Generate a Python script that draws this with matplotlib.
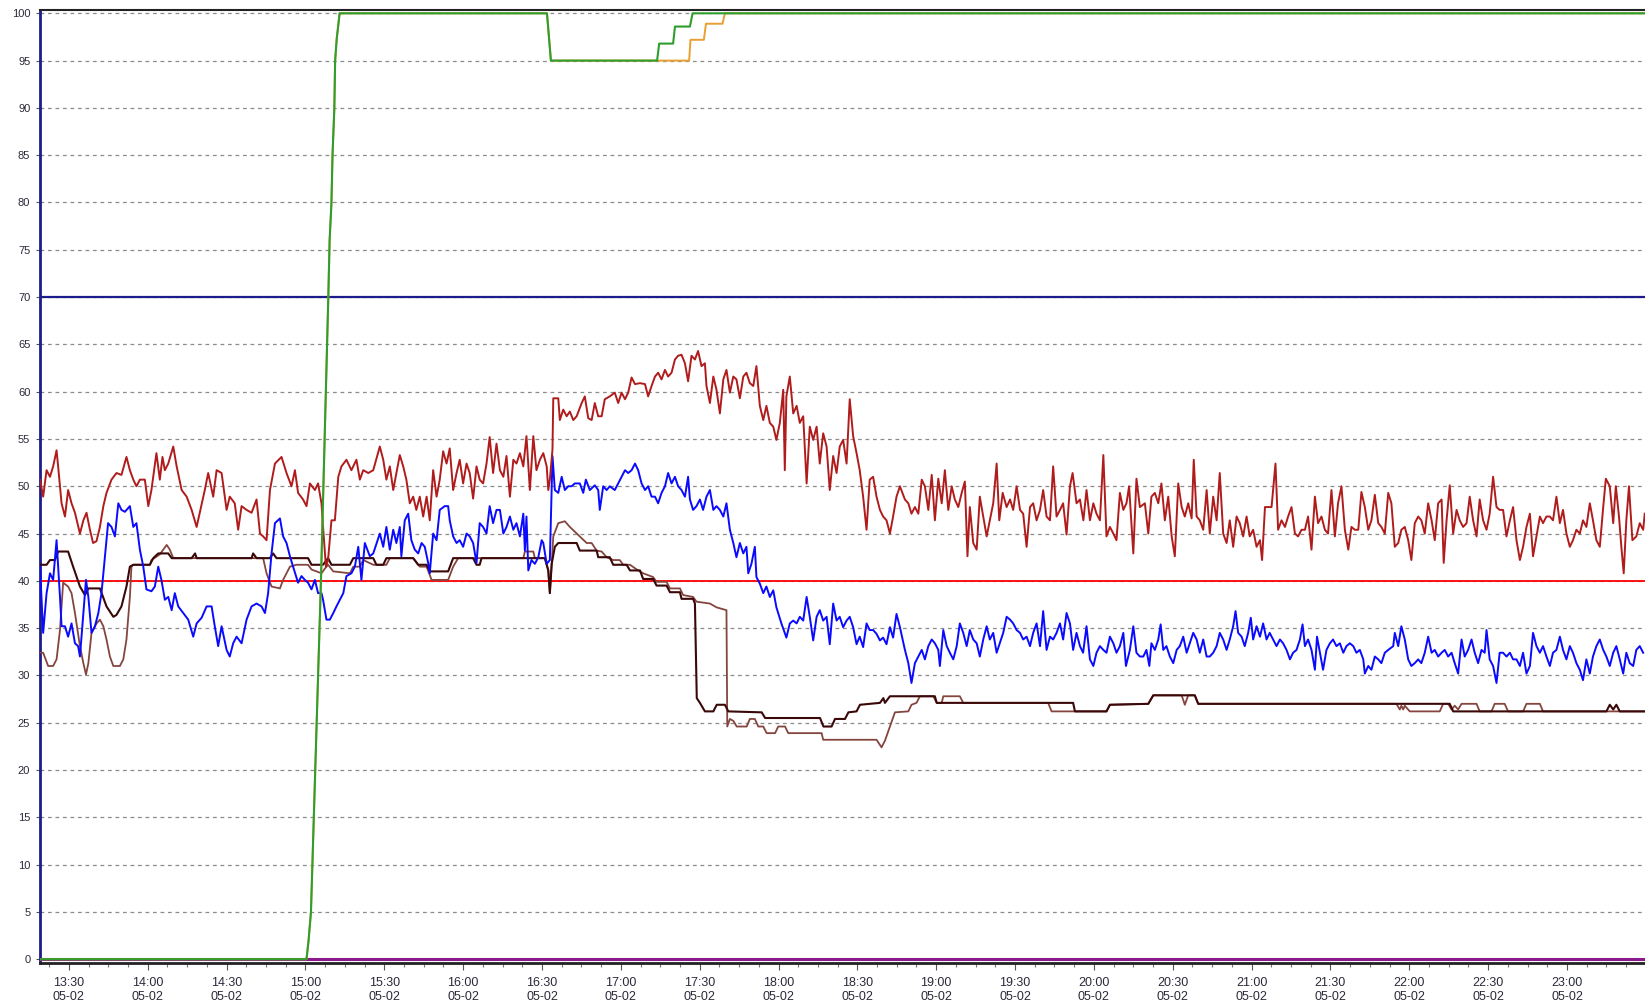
import matplotlib
matplotlib.use("Agg")
import matplotlib.pyplot as plt
from matplotlib.ticker import MultipleLocator, FuncFormatter

plt.rcParams['font.family'] = ['Liberation Sans', 'DejaVu Sans']

# time = minutes after 13:30 on 05-02, value = percent
red_pts = [
    (-11.0, 50.7), (-9.8, 48.9), (-8.5, 51.7), (-7.2, 51.0), (-6.0, 52.1), (-4.7, 53.8), (-4.1, 52.1),
    (-2.8, 48.2), (-1.5, 46.8), (-0.3, 49.6), (1.0, 48.2), (2.3, 47.2), (4.2, 45.0), (5.5, 46.4),
    (6.7, 47.2), (8.0, 45.4), (9.2, 44.0), (10.5, 44.2), (11.8, 45.7), (13.1, 47.9), (14.3, 49.3),
    (16.2, 50.7), (18.1, 51.4), (20.0, 51.2), (21.9, 53.1), (23.2, 51.7), (24.5, 50.7), (25.7, 50.0),
    (27.0, 50.7), (28.9, 50.7), (30.2, 47.9), (31.4, 49.6), (33.3, 53.5), (34.6, 50.7), (35.6, 53.1),
    (36.5, 51.7), (37.8, 52.4), (39.7, 54.2), (41.0, 52.1), (42.9, 49.6), (44.8, 48.9), (46.7, 47.5),
    (48.6, 45.7), (49.8, 47.2), (51.7, 49.6), (53.0, 51.4), (54.9, 48.9), (56.2, 51.7), (58.1, 51.4),
    (60.0, 47.5), (61.2, 48.9), (63.1, 48.2), (64.4, 45.4), (65.7, 47.9), (67.6, 47.5), (69.5, 47.2),
    (71.4, 48.6), (72.7, 45.0), (73.9, 44.7), (75.2, 44.3), (76.5, 49.6), (78.4, 52.4), (80.9, 53.1),
    (82.8, 51.4), (84.7, 50.0), (86.0, 51.7), (87.2, 49.3), (89.1, 48.6), (90.4, 47.9), (91.7, 50.3),
    (93.6, 49.6), (94.8, 50.3), (96.1, 48.2), (96.7, 45.7), (97.8, 41.5), (98.6, 42.2), (99.9, 46.4),
    (101.2, 46.4), (102.5, 51.0), (103.7, 52.1), (105.6, 52.8), (107.5, 51.7), (109.4, 52.8),
    (110.7, 50.7), (112.0, 51.7), (113.9, 51.4), (115.8, 51.7), (118.3, 54.2), (119.6, 52.8),
    (120.8, 50.7), (122.1, 52.1), (123.4, 49.6), (124.6, 51.4), (125.9, 53.3), (127.2, 52.1),
    (128.4, 50.7), (129.7, 48.2), (131.0, 48.9), (132.2, 47.5), (133.5, 48.9), (134.8, 46.8),
    (136.1, 48.9), (137.3, 46.4), (138.6, 51.7), (139.9, 48.9), (141.1, 50.7), (142.4, 53.7),
    (143.7, 52.4), (144.9, 54.0), (146.2, 49.6), (147.5, 51.4), (148.7, 52.8), (150.0, 50.3),
    (151.3, 52.4), (152.5, 51.4), (153.8, 48.7), (155.1, 52.1), (156.3, 50.7), (157.6, 50.3),
    (158.9, 52.4), (160.1, 55.2), (161.4, 51.4), (162.7, 54.5), (164.0, 51.7), (165.3, 51.0),
    (166.5, 53.2), (167.8, 48.9), (169.1, 52.8), (170.3, 52.4), (171.6, 53.5), (172.9, 52.1),
    (174.1, 55.3), (175.4, 49.6), (176.7, 55.3), (177.9, 51.7), (179.2, 52.8), (180.5, 53.5),
    (181.8, 52.1), (182.4, 49.6), (183.0, 50.7), (184.0, 53.9), (184.3, 59.3), (186.2, 59.3),
    (186.8, 57.0), (188.1, 58.1), (189.4, 57.4), (190.6, 57.9), (191.9, 57.0), (193.2, 57.4),
    (195.1, 58.8), (196.3, 59.5), (197.6, 57.2), (198.9, 57.0), (200.1, 58.8), (201.4, 57.4),
    (202.7, 57.4), (203.9, 59.2), (205.8, 59.5), (207.7, 59.9), (209.0, 58.8), (210.3, 59.9),
    (211.6, 59.2), (212.8, 59.9), (214.1, 61.5), (215.4, 60.8), (217.3, 60.9), (219.2, 60.8),
    (220.4, 59.5), (221.7, 60.6), (223.0, 61.6), (224.2, 62.0), (225.5, 61.3), (226.8, 62.3),
    (228.0, 61.6), (229.3, 62.0), (230.6, 63.4), (231.8, 63.8), (233.1, 63.9), (234.4, 63.0),
    (235.6, 61.1), (236.9, 63.8), (238.2, 63.4), (239.4, 64.3), (240.7, 62.7), (242.0, 63.0),
    (242.6, 60.6), (243.9, 58.8), (245.2, 61.6), (246.4, 60.2), (247.7, 57.7), (249.0, 61.3),
    (250.2, 62.3), (251.5, 59.9), (252.8, 61.6), (254.0, 61.3), (255.3, 59.3), (256.6, 61.6),
    (257.8, 62.0), (259.1, 60.9), (260.4, 60.6), (261.6, 62.7), (262.9, 58.5), (264.2, 57.0),
    (265.4, 58.5), (266.7, 56.7), (268.0, 56.3), (269.2, 54.9), (270.5, 56.7), (271.8, 60.2),
    (272.4, 51.7), (273.0, 59.5), (274.3, 61.6), (275.6, 57.7), (276.9, 58.5), (278.1, 56.7),
    (279.4, 57.4), (280.7, 50.3), (281.9, 56.3), (283.2, 54.9), (284.5, 56.3), (285.7, 52.4),
    (287.0, 55.6), (288.3, 54.2), (289.5, 49.6), (290.8, 53.2), (292.1, 51.4), (293.3, 54.2),
    (294.6, 54.9), (295.9, 52.4), (297.1, 59.2), (298.4, 55.3), (299.7, 53.5), (300.9, 51.7),
    (302.2, 48.9), (303.5, 45.4), (304.7, 50.7), (306.0, 51.0), (307.3, 48.9), (308.6, 47.5),
    (309.8, 46.8), (311.1, 46.4), (312.4, 45.0), (313.6, 46.8), (314.9, 48.9), (316.2, 50.0),
    (318.1, 48.6), (319.4, 48.2), (320.6, 47.1), (321.9, 47.8), (323.2, 47.1), (324.5, 50.7),
    (325.7, 50.0), (327.0, 47.5), (328.3, 51.2), (329.5, 46.4), (330.8, 50.8), (332.1, 48.2),
    (333.3, 51.7), (334.6, 47.5), (335.9, 50.0), (337.1, 48.6), (338.4, 47.8), (339.7, 49.3),
    (340.9, 50.5), (341.9, 42.6), (342.8, 47.8), (344.1, 44.0), (345.4, 43.3), (346.6, 48.9),
    (347.9, 46.8), (349.2, 44.7), (350.4, 46.4), (351.7, 48.2), (353.0, 52.4), (354.0, 46.4),
    (355.3, 49.3), (356.8, 47.8), (358.1, 48.6), (359.3, 47.5), (360.6, 50.0), (361.9, 47.5),
    (363.1, 47.1), (364.4, 43.6), (365.7, 47.8), (366.9, 48.2), (368.2, 46.4), (369.5, 47.5),
    (370.7, 49.6), (372.0, 46.8), (373.3, 46.4), (374.5, 52.1), (375.8, 46.8), (377.1, 47.5),
    (378.3, 48.2), (379.6, 44.9), (380.9, 50.0), (381.9, 51.4), (383.4, 48.2), (384.7, 48.6),
    (386.0, 46.4), (387.2, 49.6), (388.5, 46.4), (389.8, 48.2), (391.0, 47.1), (392.3, 46.4),
    (393.6, 53.3), (394.8, 44.7), (396.1, 45.7), (397.4, 45.0), (398.6, 44.3), (399.9, 49.3),
    (401.2, 47.5), (402.4, 48.2), (403.4, 50.0), (405.0, 42.9), (406.2, 50.8), (407.5, 47.8),
    (409.4, 48.2), (410.7, 45.0), (411.9, 48.9), (413.2, 49.3), (414.5, 48.2), (415.7, 50.3),
    (417.0, 46.4), (418.3, 48.9), (419.6, 44.7), (420.8, 42.6), (422.1, 50.3), (423.4, 47.8),
    (424.6, 46.8), (425.9, 48.2), (427.2, 46.6), (428.0, 52.8), (429.1, 46.8), (430.3, 46.4),
    (431.6, 45.4), (432.9, 49.6), (434.1, 45.0), (435.4, 48.9), (436.7, 46.4), (437.9, 51.4),
    (439.2, 45.0), (440.5, 44.0), (441.7, 46.4), (443.0, 43.6), (444.3, 46.8), (445.5, 46.1),
    (446.8, 44.7), (448.1, 46.8), (449.3, 44.7), (450.6, 45.4), (451.9, 43.6), (453.2, 44.3),
    (454.0, 42.2), (455.1, 47.8), (457.6, 47.8), (459.1, 52.4), (460.1, 45.4), (461.4, 46.4),
    (462.7, 45.7), (463.9, 46.8), (465.2, 47.8), (466.5, 45.0), (467.7, 44.7), (469.0, 45.4),
    (470.3, 45.4), (471.5, 46.8), (472.8, 43.3), (474.1, 48.9), (475.3, 46.1), (476.6, 46.8),
    (477.9, 45.4), (479.1, 45.0), (480.4, 49.6), (481.7, 44.7), (482.9, 48.2), (484.2, 50.0),
    (485.5, 45.4), (486.8, 43.3), (488.0, 45.7), (489.3, 45.4), (490.6, 45.4), (491.8, 49.4),
    (493.1, 47.8), (494.4, 45.4), (495.6, 46.4), (496.9, 49.1), (498.2, 46.1), (499.4, 45.7),
    (500.7, 45.0), (502.0, 49.3), (503.2, 48.2), (504.5, 43.6), (505.8, 44.0), (507.0, 45.4),
    (508.3, 45.7), (509.6, 44.3), (510.8, 42.2), (512.1, 46.1), (513.4, 46.8), (514.6, 46.4),
    (515.9, 45.0), (517.2, 48.2), (518.5, 46.4), (519.7, 44.3), (521.0, 48.2), (522.3, 48.6),
    (523.1, 41.9), (524.2, 46.4), (525.4, 50.1), (526.7, 45.0), (528.0, 47.5), (529.2, 46.4),
    (530.5, 45.7), (531.8, 46.1), (533.0, 48.9), (534.3, 46.4), (535.6, 44.7), (536.8, 48.6),
    (538.1, 46.4), (539.4, 45.4), (540.6, 47.1), (541.9, 51.0), (543.2, 47.8), (544.4, 47.5),
    (545.7, 47.5), (547.0, 44.7), (548.3, 46.4), (549.5, 47.8), (550.8, 44.3), (552.1, 42.2),
    (553.3, 43.6), (554.6, 45.7), (555.9, 47.1), (557.1, 42.6), (558.4, 44.7), (559.7, 46.8),
    (560.9, 46.1), (562.2, 46.8), (563.5, 46.8), (564.7, 46.4), (566.0, 48.9), (567.3, 46.1),
    (568.5, 47.5), (569.8, 45.0), (571.1, 43.6), (572.3, 44.3), (573.6, 45.4), (574.9, 45.0),
    (576.1, 46.4), (577.4, 45.7), (578.7, 48.2), (579.9, 46.4), (581.2, 44.3), (582.5, 43.6),
    (583.8, 47.8), (584.8, 50.8), (586.3, 50.0), (587.6, 46.1), (588.6, 50.0), (589.8, 46.8),
    (590.7, 43.6), (591.6, 40.8), (592.6, 46.4), (593.6, 50.0), (594.9, 44.3), (596.4, 44.7),
    (597.7, 46.1), (599.0, 45.4), (599.6, 47.1),
]

blue_pts = [
    (-11.0, 41.5), (-9.8, 34.5), (-8.5, 38.7), (-7.2, 40.8), (-6.0, 40.1), (-4.7, 44.3), (-4.1, 41.5),
    (-3.4, 38.3), (-2.8, 35.2), (-1.5, 35.2), (-0.3, 34.1), (1.0, 35.5), (2.3, 33.4), (3.5, 33.1),
    (4.2, 32.0), (5.5, 36.6), (6.5, 40.1), (7.4, 38.3), (8.6, 34.5), (9.9, 35.2), (11.2, 36.6),
    (12.4, 38.7), (13.7, 42.6), (14.9, 46.1), (16.2, 45.7), (17.5, 44.7), (18.8, 48.2), (20.0, 47.5),
    (21.3, 47.3), (23.2, 47.9), (24.5, 45.7), (25.7, 46.1), (27.0, 43.3), (28.3, 41.5), (29.5, 39.1),
    (31.4, 38.9), (32.7, 39.4), (34.0, 41.5), (35.2, 40.1), (36.5, 38.0), (37.8, 38.3), (39.1, 36.9),
    (40.3, 38.7), (41.6, 37.3), (43.5, 36.6), (45.4, 35.9), (47.3, 34.1), (48.6, 35.5), (50.5, 36.1),
    (52.4, 37.3), (54.3, 37.3), (55.5, 35.2), (56.8, 33.1), (58.1, 35.2), (60.0, 32.7), (61.2, 32.0),
    (62.5, 33.4), (63.8, 34.1), (65.7, 33.4), (67.6, 35.9), (69.5, 37.3), (71.4, 37.6), (73.3, 37.3),
    (74.6, 36.6), (75.8, 38.7), (77.1, 42.9), (78.4, 46.1), (80.3, 46.6), (81.5, 44.7), (82.8, 44.0),
    (84.1, 42.6), (85.3, 41.5), (87.2, 39.8), (88.5, 40.5), (89.8, 40.1), (91.0, 39.8), (92.3, 39.1),
    (93.6, 40.1), (94.8, 38.7), (96.1, 38.7), (96.7, 38.0), (98.0, 35.9), (99.3, 35.9), (100.6, 36.6),
    (101.8, 37.3), (103.1, 38.0), (104.4, 38.7), (105.6, 40.5), (107.5, 40.8), (108.8, 41.5),
    (110.1, 43.6), (111.3, 40.1), (112.6, 44.0), (114.5, 42.6), (115.8, 42.9), (118.3, 45.0),
    (119.6, 43.6), (120.8, 45.7), (122.1, 43.3), (123.4, 45.4), (124.6, 44.0), (125.9, 45.7),
    (126.5, 42.6), (127.8, 46.4), (129.1, 47.1), (130.3, 44.3), (131.6, 43.3), (132.9, 42.9),
    (134.2, 44.0), (135.4, 43.6), (136.7, 41.9), (137.3, 40.8), (138.6, 45.0), (139.9, 44.3),
    (141.1, 47.5), (143.0, 47.9), (144.3, 47.9), (144.9, 46.4), (146.2, 44.7), (147.5, 44.0),
    (148.7, 44.3), (150.0, 43.6), (151.3, 45.0), (152.5, 44.7), (153.8, 44.0), (155.1, 41.9),
    (156.3, 46.1), (157.6, 45.7), (158.9, 45.0), (160.1, 47.9), (161.4, 46.1), (162.7, 47.5),
    (164.0, 47.5), (165.3, 45.0), (166.5, 45.7), (167.8, 46.8), (169.1, 45.4), (170.3, 46.1),
    (171.6, 44.7), (172.9, 47.1), (173.5, 43.2), (174.1, 46.8), (174.8, 41.1), (176.0, 42.2),
    (177.3, 41.8), (178.6, 42.5), (179.9, 44.3), (180.5, 44.0), (181.8, 41.8), (183.0, 42.2),
    (184.0, 53.2), (184.9, 49.6), (186.2, 49.3), (187.5, 51.0), (188.7, 49.6), (190.0, 50.0),
    (191.3, 50.0), (192.5, 50.3), (194.4, 50.3), (195.7, 49.3), (196.7, 50.7), (198.2, 49.6),
    (200.1, 50.1), (201.4, 49.6), (202.0, 47.5), (203.3, 50.0), (204.6, 49.6), (205.8, 50.0),
    (207.7, 49.6), (209.0, 50.3), (210.3, 51.0), (211.6, 51.7), (212.8, 51.4), (214.1, 51.7),
    (215.4, 52.4), (216.6, 51.7), (217.9, 50.3), (219.2, 49.6), (220.4, 50.0), (221.7, 48.9),
    (223.0, 48.9), (224.2, 48.2), (225.5, 49.3), (226.8, 50.0), (228.0, 51.4), (229.3, 50.3),
    (230.6, 51.0), (231.8, 50.0), (233.1, 49.6), (234.4, 48.9), (235.6, 51.0), (236.3, 48.6),
    (237.5, 47.5), (238.8, 47.9), (240.1, 48.6), (241.3, 47.5), (242.6, 48.9), (243.9, 49.6),
    (245.2, 47.5), (246.4, 47.9), (247.7, 47.5), (249.0, 46.8), (250.2, 48.2), (251.5, 45.4),
    (252.8, 44.0), (254.0, 42.5), (255.3, 44.0), (256.6, 42.9), (257.8, 43.6), (258.5, 40.8),
    (259.7, 41.8), (261.0, 43.6), (261.6, 40.4), (262.9, 39.7), (264.2, 38.7), (265.4, 39.4),
    (266.7, 38.3), (268.0, 39.0), (269.2, 37.2), (271.1, 35.5), (273.0, 34.0), (274.3, 35.5),
    (275.6, 35.8), (276.9, 35.5), (278.1, 36.2), (279.4, 35.8), (280.7, 38.3), (281.9, 36.2),
    (283.2, 33.7), (284.5, 36.2), (285.7, 36.9), (287.0, 35.8), (288.3, 36.2), (289.5, 33.3),
    (290.8, 37.6), (292.1, 35.8), (293.3, 36.2), (294.6, 35.1), (295.9, 35.8), (297.1, 36.2),
    (298.4, 35.1), (299.7, 33.3), (300.9, 34.1), (302.2, 33.0), (303.5, 35.5), (304.7, 34.8),
    (306.0, 34.8), (307.3, 34.4), (308.6, 33.7), (309.8, 34.0), (311.1, 33.3), (312.4, 35.1),
    (313.6, 34.0), (314.9, 36.5), (316.2, 35.1), (318.1, 32.7), (319.4, 31.3), (320.6, 29.2),
    (321.9, 31.3), (323.2, 32.0), (324.5, 32.7), (325.7, 31.7), (327.0, 33.1), (328.3, 33.8),
    (329.5, 33.4), (330.8, 32.7), (331.4, 31.0), (332.7, 34.8), (334.0, 33.1), (335.2, 32.4),
    (336.5, 31.7), (337.8, 33.1), (339.0, 35.5), (340.3, 34.5), (341.6, 33.1), (342.8, 34.8),
    (344.1, 33.8), (345.4, 33.4), (346.6, 32.0), (347.9, 33.8), (349.2, 35.2), (350.4, 33.8),
    (351.7, 34.5), (353.0, 32.4), (354.2, 33.4), (355.5, 34.5), (356.8, 36.2), (358.1, 35.9),
    (359.3, 35.5), (360.6, 34.8), (361.9, 34.5), (363.1, 33.8), (364.4, 34.1), (365.7, 33.1),
    (366.9, 34.5), (368.2, 35.5), (369.5, 33.1), (370.7, 36.8), (372.0, 32.7), (373.3, 34.1),
    (374.5, 33.8), (375.8, 34.5), (377.1, 35.5), (378.3, 33.8), (379.6, 36.6), (380.9, 35.5),
    (382.1, 32.7), (383.4, 34.5), (384.7, 33.1), (385.9, 32.4), (387.2, 35.2), (388.5, 31.7),
    (389.8, 31.0), (391.0, 32.4), (392.3, 33.1), (393.6, 32.7), (394.8, 32.4), (396.1, 34.1),
    (397.4, 33.4), (398.6, 32.4), (399.9, 33.1), (401.2, 34.5), (402.2, 31.0), (403.7, 32.7),
    (405.0, 35.2), (406.2, 32.4), (407.5, 32.0), (408.8, 32.0), (410.0, 32.7), (411.1, 31.0),
    (411.9, 33.4), (413.2, 32.7), (414.5, 33.8), (415.4, 35.4), (416.4, 32.7), (417.6, 33.1),
    (418.9, 32.0), (420.2, 31.3), (421.5, 32.7), (422.7, 33.1), (424.0, 34.1), (425.3, 32.4),
    (426.5, 33.4), (427.8, 34.5), (429.1, 33.8), (430.3, 32.4), (431.6, 33.8), (432.9, 32.0),
    (434.1, 32.0), (435.4, 32.4), (436.7, 33.1), (437.9, 34.5), (439.2, 33.8), (440.5, 32.7),
    (441.7, 33.8), (443.0, 35.2), (443.9, 36.8), (444.9, 34.5), (446.2, 34.1), (447.4, 33.1),
    (448.7, 34.5), (449.7, 36.1), (450.6, 33.8), (451.9, 35.2), (453.2, 34.1), (454.4, 35.5),
    (455.7, 33.8), (456.9, 34.5), (458.2, 33.8), (459.5, 33.1), (460.8, 33.8), (462.0, 33.4),
    (463.3, 32.7), (464.6, 31.7), (465.8, 32.4), (467.1, 32.7), (468.4, 33.8), (469.4, 35.4),
    (470.3, 33.1), (471.5, 33.8), (472.8, 32.7), (474.1, 30.6), (474.9, 34.1), (476.0, 32.4),
    (477.2, 30.6), (478.5, 32.7), (479.8, 33.4), (481.0, 33.8), (482.3, 33.1), (483.6, 33.4),
    (484.9, 32.4), (486.1, 33.1), (487.4, 33.4), (488.7, 33.1), (489.9, 32.4), (491.2, 32.7),
    (492.5, 31.7), (493.1, 30.2), (494.4, 31.0), (495.6, 30.6), (496.9, 32.0), (498.2, 31.7),
    (499.4, 31.3), (500.7, 32.4), (502.0, 32.7), (503.9, 33.1), (504.5, 34.5), (505.8, 33.1),
    (507.0, 35.2), (508.3, 33.8), (509.6, 31.7), (510.8, 31.0), (512.1, 31.3), (513.4, 31.7),
    (514.6, 31.3), (515.9, 32.4), (517.2, 34.1), (518.5, 32.4), (519.7, 32.7), (521.0, 32.0),
    (522.3, 32.4), (523.5, 32.7), (524.8, 32.0), (526.1, 32.4), (527.3, 31.3), (528.6, 30.2),
    (529.9, 33.8), (531.1, 32.0), (532.4, 32.7), (533.7, 33.8), (534.9, 32.4), (536.2, 31.3),
    (537.5, 32.7), (538.7, 32.4), (539.4, 34.8), (540.6, 31.7), (541.9, 31.0), (543.2, 29.2),
    (544.4, 32.4), (545.7, 32.4), (547.0, 32.0), (548.3, 32.4), (549.5, 31.7), (550.8, 31.7),
    (552.1, 31.0), (553.3, 32.4), (554.6, 30.2), (555.9, 31.0), (557.1, 34.5), (558.4, 33.1),
    (559.7, 32.4), (560.9, 33.1), (562.2, 32.0), (563.5, 31.0), (564.7, 32.4), (566.0, 32.7),
    (567.3, 34.1), (568.5, 32.7), (569.8, 31.7), (571.1, 33.1), (572.3, 32.4), (573.6, 31.3),
    (574.9, 30.6), (576.1, 29.5), (577.4, 31.7), (578.7, 30.2), (579.9, 32.0), (581.2, 33.1),
    (582.5, 33.8), (583.8, 32.7), (585.0, 32.0), (586.3, 31.0), (587.6, 32.4), (588.8, 33.1),
    (590.1, 31.7), (591.4, 30.2), (592.6, 32.4), (593.9, 31.3), (595.2, 31.0), (596.4, 32.7),
    (597.7, 33.1), (599.0, 32.4),
]

dark_pts = [
    (-11.0, 41.7), (-8.5, 41.7), (-7.2, 42.2), (-5.3, 42.2), (-4.1, 43.1), (-0.3, 43.1), (1.6, 41.5),
    (4.2, 39.4), (6.1, 38.5), (7.4, 39.2), (11.8, 39.2), (14.3, 37.3), (16.9, 36.2), (18.1, 36.4),
    (20.0, 37.3), (21.9, 39.4), (23.2, 41.5), (24.5, 41.7), (30.8, 41.7), (32.1, 42.4), (34.0, 42.9),
    (37.8, 42.9), (39.1, 42.4), (46.7, 42.4), (48.0, 42.9), (48.6, 42.4), (69.5, 42.4), (70.1, 42.9),
    (71.4, 42.4), (76.5, 42.4), (77.7, 42.9), (79.0, 42.4), (91.0, 42.4), (92.3, 41.7), (96.7, 41.7),
    (98.6, 42.4), (99.9, 41.7), (106.9, 41.7), (108.2, 42.4), (115.8, 42.4), (117.0, 41.7),
    (119.6, 41.7), (120.8, 42.4), (131.0, 42.4), (132.9, 41.7), (136.1, 41.7), (137.3, 41.0),
    (144.3, 41.0), (146.2, 42.4), (153.8, 42.4), (155.1, 41.7), (156.3, 41.7), (157.0, 42.4),
    (181.1, 42.4), (182.4, 41.1), (183.0, 38.7), (183.7, 41.8), (184.9, 43.6), (186.2, 44.0),
    (193.2, 44.0), (194.4, 43.2), (200.8, 43.2), (201.4, 42.5), (205.8, 42.5), (207.1, 41.7),
    (212.2, 41.7), (213.5, 41.1), (217.3, 41.1), (218.5, 40.2), (222.3, 40.2), (223.6, 39.5),
    (227.4, 39.5), (228.7, 38.8), (232.5, 38.8), (233.1, 38.1), (237.5, 38.1), (238.2, 37.6),
    (238.9, 27.6), (240.1, 27.1), (242.0, 26.2), (245.2, 26.2), (246.5, 26.9), (249.6, 26.9),
    (250.9, 26.2), (263.6, 26.1), (264.9, 25.5), (285.8, 25.5), (287.1, 24.6), (290.2, 24.6),
    (291.5, 25.4), (295.3, 25.4), (296.6, 26.1), (299.7, 26.2), (301.0, 26.9), (308.6, 27.1),
    (309.9, 27.6), (310.5, 27.1), (312.4, 27.8), (329.5, 27.8), (330.2, 27.1), (382.1, 27.1),
    (382.8, 26.2), (394.8, 26.2), (396.1, 26.9), (410.7, 27.0), (412.6, 27.9), (428.4, 27.9),
    (429.7, 27.0), (525.4, 27.0), (526.7, 26.2), (585.0, 26.2), (586.3, 26.9), (587.6, 26.4),
    (588.8, 26.9), (590.1, 26.2), (599.6, 26.2),
]

light_pts = [
    (-11.0, 32.4), (-9.8, 32.4), (-7.9, 31.0), (-6.0, 31.0), (-4.7, 31.7), (-3.4, 34.8), (-2.2, 39.8),
    (-0.3, 39.4), (1.0, 38.7), (2.3, 36.6), (4.2, 33.1), (5.5, 31.3), (6.5, 30.1), (7.4, 31.3),
    (8.6, 34.5), (10.5, 35.5), (11.8, 35.9), (13.1, 35.2), (14.3, 33.8), (15.6, 32.0), (16.9, 31.0),
    (19.4, 31.0), (20.7, 31.7), (21.9, 33.8), (23.2, 38.3), (23.8, 41.5), (24.5, 41.7), (30.8, 41.7),
    (31.4, 42.2), (34.6, 42.8), (37.2, 43.8), (38.4, 43.3), (39.7, 42.4), (73.9, 42.4), (75.2, 40.8),
    (77.1, 39.4), (80.3, 39.2), (81.5, 40.1), (84.1, 41.5), (86.6, 41.7), (91.0, 41.7), (92.3, 41.2),
    (96.1, 40.8), (97.4, 41.3), (98.6, 41.7), (100.6, 41.0), (106.9, 40.8), (108.2, 41.5),
    (110.7, 41.5), (112.0, 42.2), (115.8, 41.7), (120.8, 41.7), (122.1, 42.4), (131.0, 42.4),
    (133.5, 41.5), (136.1, 41.5), (138.0, 40.1), (144.3, 40.1), (146.2, 41.5), (148.1, 42.4),
    (172.9, 42.4), (173.5, 43.1), (176.7, 43.1), (177.3, 42.4), (181.1, 42.4), (182.4, 41.1),
    (183.0, 38.7), (183.7, 41.8), (184.3, 44.7), (186.2, 46.1), (188.7, 46.3), (190.6, 45.7),
    (192.5, 45.2), (194.4, 44.7), (197.0, 44.0), (198.9, 44.0), (200.8, 43.2), (202.7, 43.1),
    (204.6, 42.5), (207.1, 42.2), (209.6, 42.2), (210.9, 41.7), (213.5, 41.7), (216.6, 41.1),
    (218.5, 40.8), (222.3, 40.4), (223.6, 39.9), (227.4, 39.9), (228.7, 39.2), (232.5, 39.2),
    (233.7, 38.5), (237.5, 38.3), (238.8, 37.8), (243.9, 37.6), (246.4, 37.2), (250.2, 36.9),
    (250.5, 24.6), (251.5, 25.4), (252.8, 25.2), (254.1, 24.6), (257.9, 24.6), (259.1, 25.4),
    (261.0, 25.4), (262.3, 24.6), (264.2, 24.6), (265.5, 23.9), (268.7, 23.9), (269.9, 24.6),
    (272.5, 24.6), (273.7, 23.9), (286.4, 23.9), (287.0, 23.2), (307.3, 23.2), (309.2, 22.4),
    (310.5, 23.1), (312.4, 24.6), (314.3, 26.1), (319.4, 26.2), (320.6, 26.9), (322.5, 27.1),
    (323.8, 27.8), (328.9, 27.8), (330.2, 27.1), (332.1, 27.1), (332.7, 27.8), (339.0, 27.8),
    (340.3, 27.1), (372.6, 27.1), (373.9, 26.2), (394.8, 26.2), (396.1, 26.9), (410.7, 27.0),
    (412.6, 27.9), (423.4, 27.9), (424.6, 26.9), (425.9, 27.9), (428.4, 27.9), (429.7, 27.0),
    (505.1, 27.0), (506.4, 26.4), (507.0, 26.8), (507.7, 26.4), (508.3, 26.8), (510.2, 26.2),
    (521.6, 26.2), (522.9, 27.0), (524.8, 27.0), (526.1, 26.4), (527.3, 26.8), (528.6, 26.4),
    (529.9, 27.0), (535.6, 27.0), (536.8, 26.2), (541.3, 26.2), (542.5, 27.0), (546.3, 27.0),
    (547.6, 26.2), (553.3, 26.2), (554.6, 27.0), (559.7, 27.0), (560.9, 26.2), (599.6, 26.2),
]

rise_pts = [
    (-11.0, 0), (90.4, 0), (91.2, 2), (92.1, 5), (95.9, 40), (98.7, 70), (99.2, 76), (99.9, 80),
    (100.3, 85), (101.0, 90), (101.3, 95), (101.9, 97.3), (103.0, 100), (181.9, 100), (183.4, 95),
]
green_tail = [(223.8, 95), (224.6, 96.8), (229.9, 96.8), (230.6, 98.6), (236.3, 98.6), (237.3, 100), (599.6, 100)]
orange_tail = [(236.0, 95), (236.5, 97.2), (241.6, 97.2), (242.4, 98.9), (248.7, 98.9), (249.6, 100), (599.6, 100)]

limit_high = 70
limit_low = 40
base_level = 0

yticks = list(range(0, 101, 5))
x_major = list(range(0, 571, 30))
start_minutes = 13 * 60 + 30
day_label = "05-02"


def unzip(pts):
    return [p[0] for p in pts], [p[1] for p in pts]


def time_label(t, pos):
    m = int(round(start_minutes + t))
    return "%02d:%02d\n%s" % (m // 60, m % 60, day_label)


fig = plt.figure(figsize=(16.45, 10.07), dpi=100)
ax = fig.add_axes([40 / 1645, 44 / 1007, 1605 / 1645, 953 / 1007])

ax.set_xlim(-11.0, 599.7)
ax.set_ylim(-0.4, 100.35)

for y in yticks:
    ax.axhline(y, color="#8c8c8c", lw=0.9, ls=(0, (3, 3)), zorder=1)

ax.axhline(base_level, color="#8b1a8b", lw=2.2, zorder=3)
ax.axhline(limit_high, color="#1c1c8a", lw=1.6, zorder=3)
ax.axhline(limit_low, color="#ff1010", lw=1.4, zorder=3)

t, v = unzip(light_pts)
ax.plot(t, v, color="#85453f", lw=1.3, zorder=4)
t, v = unzip(dark_pts)
ax.plot(t, v, color="#3a0808", lw=1.5, zorder=5)
t, v = unzip(blue_pts)
ax.plot(t, v, color="#0a0aff", lw=1.4, zorder=6)
t, v = unzip(red_pts)
ax.plot(t, v, color="#b01c1c", lw=1.4, zorder=7)
t, v = unzip(rise_pts + orange_tail)
ax.plot(t, v, color="#e8a030", lw=1.4, zorder=8)
t, v = unzip(rise_pts + green_tail)
ax.plot(t, v, color="#2e9e2e", lw=1.5, zorder=9)

ax.set_yticks(yticks)
ax.set_xticks(x_major)
ax.xaxis.set_minor_locator(MultipleLocator(7.5))
ax.xaxis.set_major_formatter(FuncFormatter(time_label))

ax.tick_params(axis="y", direction="out", length=3, width=0.8, pad=4,
               labelsize=8, labelcolor="#2a2a3a", color="#555555")
ax.tick_params(axis="x", which="major", direction="out", length=5, width=0.8, pad=5,
               labelsize=9, labelcolor="#2a2a3a", color="#555555")
ax.tick_params(axis="x", which="minor", direction="out", length=3, width=0.8, color="#777777")

ax.spines["left"].set_color("#1c1c8a")
ax.spines["left"].set_linewidth(2.0)
ax.spines["top"].set_color("#222222")
ax.spines["top"].set_linewidth(1.5)
ax.spines["bottom"].set_color("#222222")
ax.spines["bottom"].set_linewidth(2.0)
ax.spines["right"].set_visible(False)

fig.savefig("out.png", dpi=100)
